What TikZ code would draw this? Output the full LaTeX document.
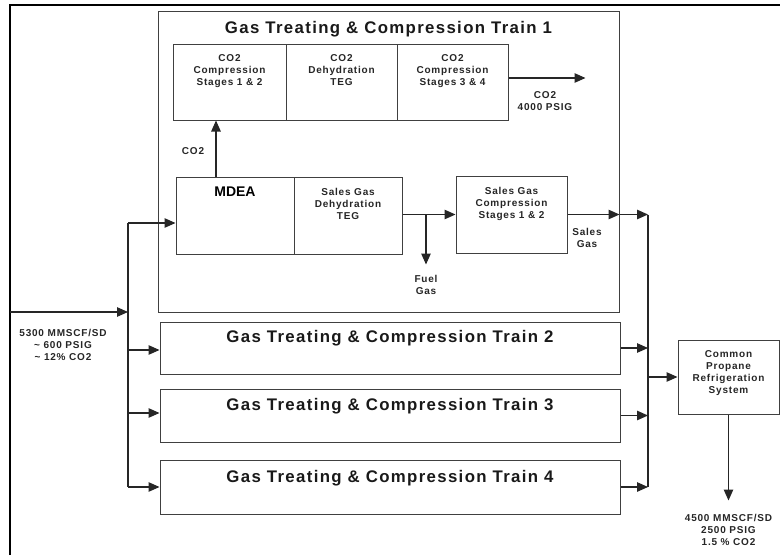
\documentclass[tikz,border=0pt]{standalone}
\usepackage{fontspec}
\setmainfont{Liberation Sans}
\newfontfamily\wide[LetterSpace=8]{Liberation Sans}
\usetikzlibrary{arrows.meta,positioning}

\begin{document}
\begin{tikzpicture}[x=1pt,y=-1pt,
                    box/.style={draw=black!75,line width=1pt,inner sep=0pt},
                    small/.style={font=\wide\bfseries\fontsize{10}{12}\selectfont,align=center,inner sep=0pt,text=black!85},
                    title/.style={font=\wide\bfseries\fontsize{16.8}{19}\selectfont,inner sep=0pt,text=black!90},
                    flow/.style={draw=black!85,line width=1.2pt,-{Triangle[length=11pt,width=9.5pt]}},
                    pipe/.style={draw=black!85,line width=1.2pt},
                    every edge/.style=flow]

  \useasboundingbox (0,0) rectangle (780,555);
  \draw[line width=2pt] (10,555) |- (780,5);

  % train 1 and its units
  \node[box,minimum width=461,minimum height=301] (t1) at (388.5,161.5) {};
  \node[title,below=11pt of t1.north] (t1t) {Gas Treating \& Compression Train 1};

  \node[box,minimum width=113,minimum height=76] (c1) at (229.5,82) {};
  \node[box,minimum width=111,minimum height=76] (c2) at (341.5,82) {};
  \node[box,minimum width=111,minimum height=76] (c3) at (452.5,82) {};
  \node[small,below=10.5pt of c1.north] (c1t) {CO2\\Compression\\Stages 1 \& 2};
  \node[small,below=10.5pt of c2.north] (c2t) {CO2\\Dehydration\\TEG};
  \node[small,below=10.5pt of c3.north] (c3t) {CO2\\Compression\\Stages 3 \& 4};

  \node[box,minimum width=118,minimum height=77] (mdea) at (235,215.5) {};
  \node[box,minimum width=108,minimum height=77] (dehy) at (348,215.5) {};
  \node[box,minimum width=111,minimum height=77] (comp) at (511.5,214.5) {};
  \node[inner sep=0pt,font=\bfseries\fontsize{14}{16}\selectfont,below=10pt of mdea.north] (mdeat) {MDEA};
  \node[small,below=11.5pt of dehy.north] (dehyt) {Sales Gas\\Dehydration\\TEG};
  \node[small,below=11.5pt of comp.north] (compt) {Sales Gas\\Compression\\Stages 1 \& 2};

  % trains 2 to 4
  \node[box,minimum width=460,minimum height=52] (t2) at (390,348) {};
  \node[box,minimum width=460,minimum height=53] (t3) at (390,415.5) {};
  \node[box,minimum width=460,minimum height=54] (t4) at (390,487) {};
  \node[title,below=9pt of t2.north] (t2t) {Gas Treating \& Compression Train 2};
  \node[title,below=10pt of t3.north] (t3t) {Gas Treating \& Compression Train 3};
  \node[title,below=11pt of t4.north] (t4t) {Gas Treating \& Compression Train 4};

  \node[box,minimum width=101,minimum height=74] (prop) at (728.5,377) {};
  \node[small,below=10.5pt of prop.north] (propt) {Common\\Propane\\Refrigeration\\System};

  % feed side
  \coordinate (feed) at (10,312);
  \coordinate (split) at (128,312);
  \coordinate (b1) at (128,223);
  \coordinate (b2) at (128,350);
  \coordinate (b3) at (128,413);
  \coordinate (b4) at (128,487);
  \node[small] (feedt) at (63,345) {5300 MMSCF/SD\\\textasciitilde{} 600 PSIG\\\textasciitilde{} 12\% CO2};

  \path (feed) edge (split)
    (b1) edge (b1 -| mdea.west)
    (b2) edge (b2 -| t2.west)
    (b3) edge (b3 -| t3.west)
    (b4) edge (b4 -| t4.west);
  \draw[pipe] (b1) -- (b4);

  % inside train 1
  \coordinate (rich) at ([xshift=-19pt]mdea.north);
  \coordinate (co2out) at ([yshift=4pt]c3.east);
  \coordinate (fuel) at (426,214.5);
  \path (rich) edge (rich |- c1.south)
    (co2out) edge ++(77,0)
    (dehy.east |- comp.west) edge (comp.west)
    (fuel) edge ++(0,50)
    (comp.east) edge (comp.east -| t1.east);
  \node[small] (co2t) at (193,151) {CO2};
  \node[small] (co2hp) at (545,101) {CO2\\4000 PSIG};
  \node[small] (fuelt) at (426,285) {Fuel\\Gas};
  \node[small] (salest) at (587,238) {Sales\\Gas};

  % product side
  \coordinate (m1) at (648,214.5);
  \coordinate (m4) at (648,487);
  \path (comp.east -| t1.east) edge (m1)
    (t2.east) edge (t2.east -| m1)
    (t3.east) edge (t3.east -| m1)
    (t4.east) edge (t4.east -| m1)
    (prop.west -| m1) edge (prop.west)
    (prop.south) edge ++(0,86);
  \draw[pipe] (m1) -- (m4);
  \node[small] (prodt) at (728.5,530) {4500 MMSCF/SD\\2500 PSIG\\1.5 \% CO2};
\end{tikzpicture}
\end{document}
